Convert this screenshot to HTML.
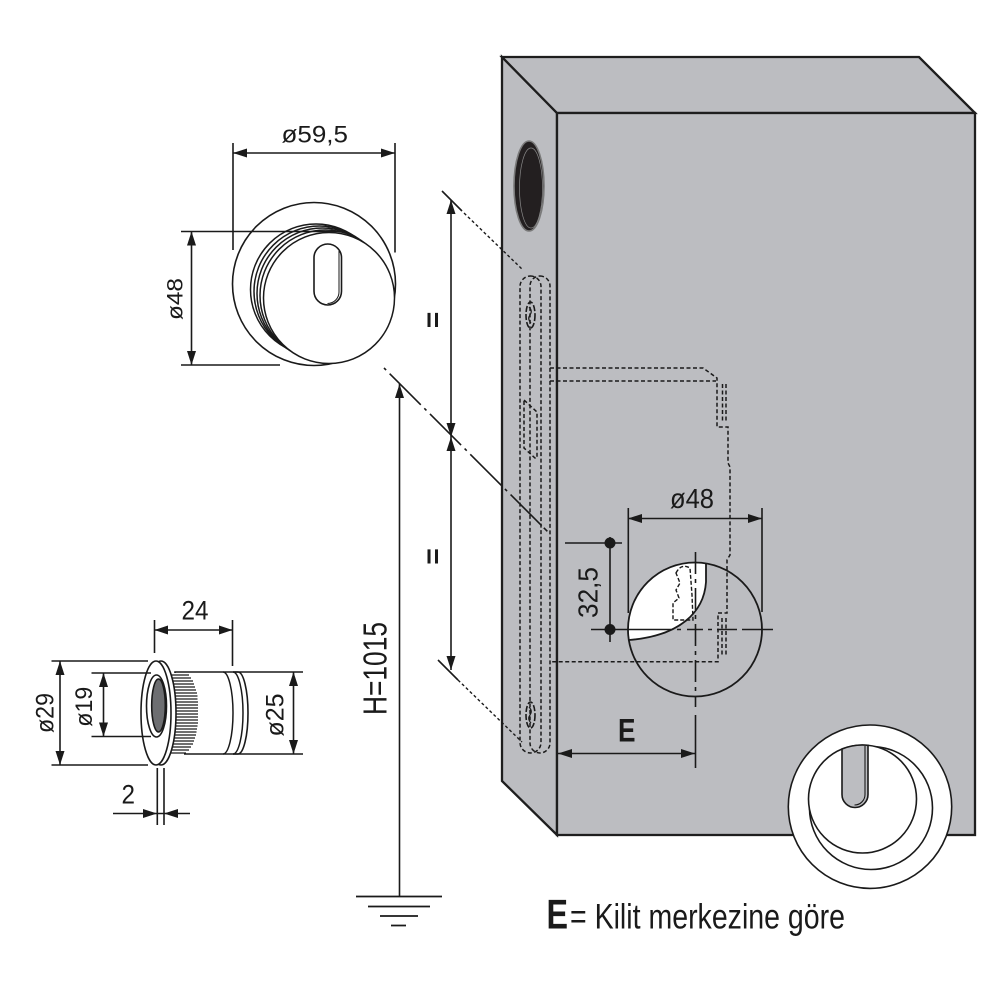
<!DOCTYPE html>
<html><head><meta charset="utf-8"><style>
html,body{margin:0;padding:0;background:#fff;}
svg{display:block;}
text{font-family:"Liberation Sans",Arial,sans-serif;fill:#1a1a1a;}
</style></head><body>
<svg width="1000" height="1000" viewBox="0 0 1000 1000" xmlns="http://www.w3.org/2000/svg">
<rect width="1000" height="1000" fill="#fff"/>

<!-- ===== BOX ===== -->
<g stroke="#1e1e1e" stroke-width="2.3" stroke-linejoin="miter" fill="#bcbdc1">
  <polygon points="502,57 557,113 557,835 502,781"/>
  <polygon points="502,57 919,57 975,113 557,113"/>
  <rect x="557" y="113" width="418" height="722"/>
</g>
<!-- hole in side -->
<ellipse cx="529" cy="186" rx="15" ry="45" fill="#231f20" stroke="#7a7a7a" stroke-width="1.6"/>
<ellipse cx="531" cy="188" rx="11.5" ry="40" fill="none" stroke="#8a8a8a" stroke-width="0.7"/>

<!-- faceplate dashed -->
<g fill="none" stroke="#1a1a1a" stroke-width="1.5" stroke-dasharray="4 2.5">
  <rect x="520" y="276" width="21" height="477" rx="10.5"/>
  <rect x="530" y="276" width="20" height="477" rx="10"/>
  <path d="M524,400 L537,412 V458 L535,458 L524,448 Z"/>
  <!-- lock case -->
  <path d="M550,368 H703 L717,378 V427 H728 V463 L730,467 V555 L727,560 V613 H718 V661.7 H550"/>
  <path d="M550,381 H716"/>
  <path d="M722.5,384 V423 M726,384 V423 M722,618 V657 M726,618 V657"/>
</g>
<g fill="none" stroke="#1a1a1a" stroke-width="1.6" stroke-dasharray="6 2">
  <ellipse cx="530.5" cy="315" rx="4.5" ry="13"/>
  <ellipse cx="530.5" cy="715" rx="4.5" ry="13"/>
</g>
<path d="M529,307 Q533,311 530,315 Q527,319 531,323" fill="none" stroke="#1a1a1a" stroke-width="1.2"/>
<path d="M529,707 Q533,711 530,715 Q527,719 531,723" fill="none" stroke="#1a1a1a" stroke-width="1.2"/>

<!-- lock circle -->
<path d="M628.5,637 A67,67 0 0 1 706,563.5 L706,582 C704,612 680,636 630,640 Z" fill="#fff" stroke="none"/>
<circle cx="695" cy="629.5" r="67" fill="none" stroke="#1a1a1a" stroke-width="1.8"/>
<path d="M706,563.5 L706,582 C704,612 680,636 629,640" fill="none" stroke="#1a1a1a" stroke-width="1.8"/>
<path d="M676,573 Q681,563 690,568 L692,595 L693,620 H673 V603 L679,598 L676,590 L680,583 Z" fill="none" stroke="#1a1a1a" stroke-width="1.4" stroke-dasharray="4 2"/>
<!-- centre lines -->
<path d="M591,629.5 H773" stroke="#1a1a1a" stroke-width="1.6" stroke-dasharray="80 6 4 6 16 5 4 5 20 5"/>
<path d="M695.5,552 V707" stroke="#1a1a1a" stroke-width="1.6" stroke-dasharray="22 5 4 5"/>
<path d="M695.5,715 V768" stroke="#1a1a1a" stroke-width="1.6"/>

<!-- ø48 lock dim -->
<g stroke="#1a1a1a" stroke-width="1.6" fill="none">
  <path d="M628.3,508 V613 M762,508 V612 M628,518.5 H762"/>
  <path d="M565,543 H622 M610,537 V642"/>
  <path d="M558,753.5 H695"/>
</g>
<g fill="#1a1a1a">
  <polygon points="628,518.5 642,514 642,523"/>
  <polygon points="762,518.5 748,514 748,523"/>
  <circle cx="610" cy="543" r="5.5"/>
  <circle cx="610" cy="629.5" r="5.5"/>
  <polygon points="558,753.5 572,749 572,758"/>
  <polygon points="695,753.5 681,749 681,758"/>
</g>
<text x="670" y="508" font-size="28" textLength="44" lengthAdjust="spacingAndGlyphs">ø48</text>
<text transform="translate(597.5,592.5) rotate(-90)" font-size="28" text-anchor="middle" textLength="51" lengthAdjust="spacingAndGlyphs">32,5</text>
<text x="618" y="741.5" font-size="32" font-weight="bold" textLength="17.5" lengthAdjust="spacingAndGlyphs">E</text>

<!-- ===== BOTTOM-RIGHT KNOB ===== -->
<circle cx="870" cy="806.7" r="81.7" fill="#fff" stroke="#1a1a1a" stroke-width="1.6"/>
<circle cx="871" cy="808" r="61.5" fill="none" stroke="#1a1a1a" stroke-width="1.6"/>
<circle cx="862.5" cy="799" r="54" fill="#fff" stroke="#1a1a1a" stroke-width="1.6"/>
<path d="M842,749 V794.5 A13,13 0 0 0 868,794.5 V745.3 A54,54 0 0 0 842,749 Z" fill="#bcbdc1" stroke="#1a1a1a" stroke-width="1.6"/>
<path d="M865,746 V794.5 A10.5,10.5 0 0 1 854.5,805" fill="none" stroke="#1a1a1a" stroke-width="1.1"/>

<!-- ===== TOP-LEFT KNOB ===== -->
<circle cx="314" cy="284" r="81.5" fill="#fff" stroke="#1a1a1a" stroke-width="1.6"/>
<g fill="#fff" stroke="#1a1a1a" stroke-width="1.5">
  <circle cx="316" cy="289.5" r="65.5"/>
  <circle cx="319.5" cy="291.5" r="65.5"/>
  <circle cx="322.5" cy="293.5" r="65.5"/>
  <circle cx="325.5" cy="295.5" r="65.5"/>
  <circle cx="329" cy="298" r="65.5"/>
</g>
<rect x="314" y="244" width="27.5" height="61" rx="13.75" fill="#fff" stroke="#1a1a1a" stroke-width="1.6"/>
<path d="M339,251 V292 A11.5,11.5 0 0 1 327.5,303.5" fill="none" stroke="#1a1a1a" stroke-width="1"/>

<g stroke="#1a1a1a" stroke-width="1.6" fill="none">
  <path d="M233,143 V250 M395,143 V252.5 M233,153 H395"/>
  <path d="M181,231.5 H342 M181,365 H280 M191.5,231.5 V365"/>
</g>
<g fill="#1a1a1a">
  <polygon points="233,153 247,148.5 247,157.5"/>
  <polygon points="395,153 381,148.5 381,157.5"/>
  <polygon points="191.5,231.5 187,245.5 196,245.5"/>
  <polygon points="191.5,365 187,351 196,351"/>
</g>
<text x="281.5" y="142.5" font-size="24.5" textLength="66.5" lengthAdjust="spacingAndGlyphs">ø59,5</text>
<text transform="translate(182.5,299) rotate(-90)" font-size="22.5" text-anchor="middle" textLength="42" lengthAdjust="spacingAndGlyphs">ø48</text>

<!-- ===== MIDDLE DIMENSIONS ===== -->
<g stroke="#1a1a1a" stroke-width="1.6" fill="none">
  <path d="M451,200 V670"/>
  <path d="M442,191 L462,211"/>
  <path d="M464,213 L523,270" stroke-dasharray="3 2.5" stroke-width="1.4"/>
  <path d="M384,368 L560,544" stroke-dasharray="3 5 44 5 3 5 44 5 3 5 44 5 3 5 44"/>
  <path d="M438,660 L458,680"/>
  <path d="M458,680 L522,742" stroke-dasharray="3 2.5" stroke-width="1.4"/>
  <path d="M399.5,384 V896"/>
  <path d="M356,896.5 H442 M368,906.5 H430 M380,916 H418 M391,925.5 H406" stroke-width="1.8"/>
</g>
<g fill="#1a1a1a">
  <polygon points="451,200 446.5,214 455.5,214"/>
  <polygon points="451,437 446.5,423 455.5,423"/>
  <polygon points="451,437 446.5,451 455.5,451"/>
  <polygon points="451,670 446.5,656 455.5,656"/>
  <polygon points="399.5,384 395,398 404,398"/>
</g>
<text transform="translate(442,320) rotate(-90)" font-size="28" font-weight="bold" text-anchor="middle">=</text>
<text transform="translate(442,556.5) rotate(-90)" font-size="28" font-weight="bold" text-anchor="middle">=</text>
<text transform="translate(386.5,668.5) rotate(-90)" font-size="33" text-anchor="middle" textLength="93" lengthAdjust="spacingAndGlyphs">H=1015</text>

<!-- ===== CYLINDER ===== -->
<path d="M175,672 H238 A10,41 0 0 1 238,754 H175 Z" fill="#fff" stroke="#1a1a1a" stroke-width="1.6"/>
<g fill="none" stroke="#1a1a1a" stroke-width="1.5">
  <path d="M223,672 A10,41 0 0 1 223,754"/>
  <path d="M233,672 A10,41 0 0 1 233,754"/>
</g>
<!-- knurl -->
<rect x="170" y="673" width="14" height="83" fill="#fff"/>
<g stroke="#1a1a1a" stroke-width="1.3">
  <path d="M170,675 H189 M170,678 H191 M170,681 H193 M170,684 H194 M170,687 H195 M170,690 H196 M170,693 H197 M170,696 H197.5 M170,699 H197.5 M170,702 H198 M170,705 H198 M170,708 H198 M170,711 H198 M170,714 H198 M170,717 H198 M170,720 H198 M170,723 H198 M170,726 H197.5 M170,729 H197 M170,732 H196.5 M170,735 H196 M170,738 H195 M170,741 H194 M170,744 H193 M170,747 H191 M170,750 H189 M170,753 H186"/>
</g>
<!-- flange -->
<ellipse cx="161" cy="713" rx="15" ry="52" fill="#fff" stroke="#1a1a1a" stroke-width="1.6"/>
<ellipse cx="156" cy="713" rx="15" ry="52" fill="#fff" stroke="#1a1a1a" stroke-width="1.6"/>
<ellipse cx="156.5" cy="706" rx="10" ry="31" fill="#fff" stroke="#1a1a1a" stroke-width="1.6"/>
<ellipse cx="158.5" cy="705.5" rx="6.8" ry="26.5" fill="#6d6e71" stroke="#1a1a1a" stroke-width="1.6"/>

<g stroke="#1a1a1a" stroke-width="1.6" fill="none">
  <path d="M154.5,620 V653 M232.5,620 V666 M154.5,630 H232.5"/>
  <path d="M51.5,661 H148 M51.5,765 H148 M60,661 V765"/>
  <path d="M91.5,673 H151 M91.5,736.5 H151 M103.5,673 V736.5"/>
  <path d="M233,672 H303 M233,754 H303 M293.5,672 V754"/>
  <path d="M157.3,768 V825 M164,768 V825 M113,813.5 H190"/>
</g>
<g fill="#1a1a1a">
  <polygon points="154.5,630 168,625.5 168,634.5"/>
  <polygon points="232.5,630 219,625.5 219,634.5"/>
  <polygon points="60,661 55.5,675 64.5,675"/>
  <polygon points="60,765 55.5,751 64.5,751"/>
  <polygon points="103.5,673 99,687 108,687"/>
  <polygon points="103.5,736.5 99,722.5 108,722.5"/>
  <polygon points="293.5,672 289,686 298,686"/>
  <polygon points="293.5,754 289,740 298,740"/>
  <polygon points="157,813.5 143,809 143,818"/>
  <polygon points="164,813.5 178,809 178,818"/>
</g>
<text x="181.5" y="619.5" font-size="27" textLength="27" lengthAdjust="spacingAndGlyphs">24</text>
<text transform="translate(53.5,713) rotate(-90)" font-size="25" text-anchor="middle" textLength="40" lengthAdjust="spacingAndGlyphs">ø29</text>
<text transform="translate(92,706.7) rotate(-90)" font-size="24" text-anchor="middle" textLength="40" lengthAdjust="spacingAndGlyphs">ø19</text>
<text transform="translate(283.5,715) rotate(-90)" font-size="25" text-anchor="middle" textLength="43" lengthAdjust="spacingAndGlyphs">ø25</text>
<text x="121.5" y="803.5" font-size="27" textLength="13.5" lengthAdjust="spacingAndGlyphs">2</text>

<!-- ===== LEGEND ===== -->
<text x="546.5" y="928.5" font-size="42" font-weight="bold" textLength="21.5" lengthAdjust="spacingAndGlyphs">E</text>
<text x="570" y="928.5" font-size="35" textLength="275" lengthAdjust="spacingAndGlyphs">= Kilit merkezine göre</text>
</svg>
</body></html>
